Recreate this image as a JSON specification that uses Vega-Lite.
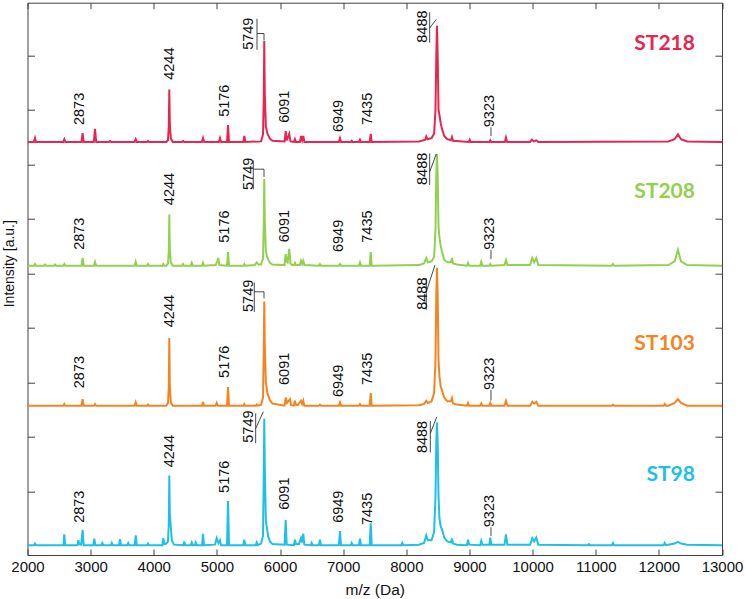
{
  "$schema": "https://vega.github.io/schema/vega-lite/v6.json",
  "width": 694.5,
  "height": 552.3,
  "autosize": {"type": "none"},
  "padding": {"left": 27.5, "top": 2.7, "right": 24, "bottom": 44},
  "background": "white",
  "config": {
    "view": {"stroke": "#404040", "strokeWidth": 1},
    "axis": {"grid": false, "domain": false, "labelFont": "Liberation Sans", "titleFont": "Liberation Sans", "labelColor": "#111", "titleColor": "#111", "tickColor": "#404040", "titleFontWeight": "normal", "labelFlush": false, "labelOverlap": false}
  },
  "datasets": {
    "ST218": [
      {"mz":2000,"int":741},{"mz":2100,"int":741},{"mz":2119,"int":748},{"mz":2135,"int":741},
      {"mz":2565,"int":741},{"mz":2583,"int":746},{"mz":2600,"int":741},
      {"mz":2855,"int":741},{"mz":2873,"int":757},{"mz":2890,"int":741},
      {"mz":3050,"int":741},{"mz":3069,"int":765},{"mz":3088,"int":741},
      {"mz":3290,"int":741},{"mz":3307,"int":743},{"mz":3325,"int":741},
      {"mz":3695,"int":741},{"mz":3714,"int":746},{"mz":3730,"int":741},
      {"mz":3890,"int":741},{"mz":3908,"int":743},{"mz":3925,"int":741},
      {"mz":4200,"int":741},{"mz":4225,"int":744},{"mz":4238,"int":770},{"mz":4246,"int":837},{"mz":4254,"int":775},{"mz":4270,"int":748},{"mz":4300,"int":741},
      {"mz":4445,"int":741},{"mz":4463,"int":743},{"mz":4480,"int":741},
      {"mz":4762,"int":741},{"mz":4780,"int":748},{"mz":4798,"int":741},
      {"mz":5030,"int":741},{"mz":5049,"int":748},{"mz":5066,"int":741},
      {"mz":5160,"int":741},{"mz":5176,"int":772},{"mz":5192,"int":741},
      {"mz":5418,"int":741},{"mz":5434,"int":752},{"mz":5450,"int":741},
      {"mz":5700,"int":742},{"mz":5730,"int":755},{"mz":5742,"int":820},{"mz":5750,"int":926},{"mz":5758,"int":830},{"mz":5775,"int":770},{"mz":5800,"int":756},{"mz":5840,"int":747},{"mz":5880,"int":743},
      {"mz":6072,"int":742},{"mz":6089,"int":761},{"mz":6105,"int":744},{"mz":6146,"int":756},{"mz":6165,"int":742},
      {"mz":6220,"int":741},{"mz":6236,"int":746},{"mz":6252,"int":741},
      {"mz":6315,"int":741},{"mz":6332,"int":752},{"mz":6350,"int":744},{"mz":6368,"int":752},{"mz":6385,"int":741},
      {"mz":6932,"int":741},{"mz":6949,"int":748},{"mz":6966,"int":741},
      {"mz":7120,"int":741},{"mz":7135,"int":743},{"mz":7150,"int":741},
      {"mz":7250,"int":741},{"mz":7266,"int":745},{"mz":7282,"int":741},
      {"mz":7420,"int":741},{"mz":7436,"int":756},{"mz":7452,"int":741},
      {"mz":8200,"int":742},{"mz":8300,"int":745},{"mz":8316,"int":751},{"mz":8335,"int":746},{"mz":8400,"int":748},{"mz":8440,"int":756},{"mz":8462,"int":800},{"mz":8475,"int":900},{"mz":8486,"int":954},{"mz":8497,"int":900},{"mz":8510,"int":800},{"mz":8525,"int":790},{"mz":8545,"int":775},{"mz":8565,"int":765},{"mz":8600,"int":752},{"mz":8650,"int":746},{"mz":8705,"int":744},{"mz":8723,"int":750},{"mz":8740,"int":743},
      {"mz":8990,"int":741},{"mz":9004,"int":745},{"mz":9020,"int":741},
      {"mz":9315,"int":741},{"mz":9330,"int":744},{"mz":9345,"int":741},
      {"mz":9560,"int":741},{"mz":9578,"int":749},{"mz":9596,"int":741},
      {"mz":9960,"int":741},{"mz":9989,"int":745},{"mz":10020,"int":742},{"mz":10060,"int":744},{"mz":10090,"int":741},
      {"mz":12150,"int":742},{"mz":12250,"int":746},{"mz":12302,"int":755},{"mz":12350,"int":746},{"mz":12450,"int":742},
      {"mz":13000,"int":741}
    ],
    "ST208": [
      {"mz":2000,"int":514},{"mz":2105,"int":514},{"mz":2119,"int":517},{"mz":2135,"int":514},
      {"mz":2262,"int":514},{"mz":2277,"int":516},{"mz":2292,"int":514},
      {"mz":2420,"int":514},{"mz":2436,"int":516},{"mz":2452,"int":514},
      {"mz":2568,"int":514},{"mz":2583,"int":517},{"mz":2598,"int":514},
      {"mz":2855,"int":514},{"mz":2873,"int":528},{"mz":2890,"int":514},
      {"mz":3052,"int":514},{"mz":3069,"int":521},{"mz":3086,"int":514},
      {"mz":3697,"int":514},{"mz":3714,"int":521},{"mz":3730,"int":514},
      {"mz":3893,"int":514},{"mz":3908,"int":517},{"mz":3923,"int":514},
      {"mz":4136,"int":514},{"mz":4151,"int":517},{"mz":4166,"int":514},
      {"mz":4200,"int":514},{"mz":4225,"int":518},{"mz":4238,"int":540},{"mz":4246,"int":608},{"mz":4254,"int":545},{"mz":4270,"int":520},{"mz":4300,"int":514},
      {"mz":4448,"int":514},{"mz":4463,"int":517},{"mz":4478,"int":514},
      {"mz":4586,"int":514},{"mz":4601,"int":519},{"mz":4616,"int":514},
      {"mz":4765,"int":514},{"mz":4780,"int":519},{"mz":4795,"int":514},
      {"mz":4980,"int":515},{"mz":5005,"int":522},{"mz":5022,"int":528},{"mz":5038,"int":515},
      {"mz":5160,"int":514},{"mz":5176,"int":539},{"mz":5192,"int":514},
      {"mz":5420,"int":514},{"mz":5434,"int":517},{"mz":5448,"int":514},
      {"mz":5600,"int":515},{"mz":5630,"int":520},{"mz":5660,"int":516},
      {"mz":5700,"int":516},{"mz":5730,"int":527},{"mz":5742,"int":590},{"mz":5750,"int":673},{"mz":5758,"int":600},{"mz":5775,"int":540},{"mz":5800,"int":528},{"mz":5840,"int":519},{"mz":5880,"int":516},
      {"mz":6072,"int":515},{"mz":6089,"int":535},{"mz":6105,"int":522},{"mz":6120,"int":520},{"mz":6146,"int":545},{"mz":6165,"int":518},{"mz":6190,"int":515},
      {"mz":6220,"int":515},{"mz":6236,"int":519},{"mz":6252,"int":515},
      {"mz":6315,"int":515},{"mz":6332,"int":523},{"mz":6350,"int":517},{"mz":6368,"int":523},{"mz":6385,"int":515},
      {"mz":6615,"int":514},{"mz":6632,"int":517},{"mz":6648,"int":514},
      {"mz":6932,"int":514},{"mz":6949,"int":517},{"mz":6966,"int":514},
      {"mz":7250,"int":514},{"mz":7266,"int":520},{"mz":7282,"int":514},
      {"mz":7420,"int":514},{"mz":7436,"int":539},{"mz":7452,"int":514},
      {"mz":8200,"int":515},{"mz":8280,"int":518},{"mz":8316,"int":528},{"mz":8340,"int":520},{"mz":8400,"int":522},{"mz":8440,"int":530},{"mz":8462,"int":580},{"mz":8475,"int":680},{"mz":8486,"int":719},{"mz":8497,"int":680},{"mz":8510,"int":585},{"mz":8525,"int":565},{"mz":8545,"int":550},{"mz":8565,"int":540},{"mz":8600,"int":525},{"mz":8650,"int":520},{"mz":8705,"int":520},{"mz":8723,"int":528},{"mz":8740,"int":518},{"mz":8800,"int":516},
      {"mz":8960,"int":514},{"mz":8977,"int":519},{"mz":8995,"int":514},
      {"mz":9170,"int":514},{"mz":9187,"int":521},{"mz":9205,"int":514},
      {"mz":9315,"int":514},{"mz":9330,"int":517},{"mz":9345,"int":514},
      {"mz":9555,"int":515},{"mz":9578,"int":524},{"mz":9600,"int":515},
      {"mz":9960,"int":515},{"mz":9995,"int":528},{"mz":10025,"int":520},{"mz":10058,"int":528},{"mz":10090,"int":515},
      {"mz":11255,"int":514},{"mz":11273,"int":517},{"mz":11290,"int":514},
      {"mz":12150,"int":515},{"mz":12250,"int":522},{"mz":12302,"int":543},{"mz":12350,"int":522},{"mz":12450,"int":515},
      {"mz":13000,"int":514}
    ],
    "ST103": [
      {"mz":2000,"int":257},{"mz":2568,"int":257},{"mz":2583,"int":260},{"mz":2598,"int":257},
      {"mz":2855,"int":257},{"mz":2873,"int":269},{"mz":2890,"int":257},
      {"mz":3052,"int":257},{"mz":3069,"int":260},{"mz":3086,"int":257},
      {"mz":3697,"int":257},{"mz":3714,"int":263},{"mz":3730,"int":257},
      {"mz":3893,"int":257},{"mz":3908,"int":259},{"mz":3923,"int":257},
      {"mz":4200,"int":257},{"mz":4225,"int":262},{"mz":4238,"int":290},{"mz":4246,"int":381},{"mz":4254,"int":295},{"mz":4270,"int":263},{"mz":4300,"int":257},
      {"mz":4765,"int":257},{"mz":4780,"int":264},{"mz":4795,"int":257},
      {"mz":4980,"int":257},{"mz":4997,"int":262},{"mz":5015,"int":257},
      {"mz":5160,"int":257},{"mz":5176,"int":291},{"mz":5192,"int":257},
      {"mz":5420,"int":257},{"mz":5434,"int":260},{"mz":5448,"int":257},
      {"mz":5615,"int":257},{"mz":5630,"int":259},{"mz":5645,"int":257},
      {"mz":5700,"int":259},{"mz":5730,"int":272},{"mz":5742,"int":360},{"mz":5750,"int":448},{"mz":5758,"int":370},{"mz":5775,"int":300},{"mz":5800,"int":280},{"mz":5840,"int":267},{"mz":5880,"int":261},
      {"mz":6072,"int":257},{"mz":6089,"int":272},{"mz":6110,"int":262},{"mz":6157,"int":269},{"mz":6175,"int":258},
      {"mz":6220,"int":257},{"mz":6236,"int":266},{"mz":6252,"int":259},{"mz":6280,"int":258},{"mz":6332,"int":266},{"mz":6350,"int":260},{"mz":6368,"int":266},{"mz":6385,"int":257},
      {"mz":6615,"int":257},{"mz":6632,"int":259},{"mz":6648,"int":257},
      {"mz":6932,"int":257},{"mz":6949,"int":263},{"mz":6966,"int":257},
      {"mz":7250,"int":257},{"mz":7266,"int":260},{"mz":7282,"int":257},
      {"mz":7420,"int":257},{"mz":7436,"int":280},{"mz":7452,"int":257},
      {"mz":8200,"int":258},{"mz":8280,"int":260},{"mz":8316,"int":266},{"mz":8340,"int":262},{"mz":8400,"int":265},{"mz":8440,"int":280},{"mz":8462,"int":340},{"mz":8475,"int":460},{"mz":8486,"int":510},{"mz":8497,"int":460},{"mz":8510,"int":340},{"mz":8525,"int":310},{"mz":8545,"int":292},{"mz":8565,"int":285},{"mz":8600,"int":272},{"mz":8650,"int":265},{"mz":8705,"int":265},{"mz":8723,"int":271},{"mz":8740,"int":261},{"mz":8800,"int":259},
      {"mz":8960,"int":257},{"mz":8977,"int":262},{"mz":8995,"int":257},
      {"mz":9170,"int":257},{"mz":9187,"int":261},{"mz":9205,"int":257},
      {"mz":9315,"int":257},{"mz":9330,"int":262},{"mz":9345,"int":257},
      {"mz":9555,"int":257},{"mz":9578,"int":266},{"mz":9600,"int":257},
      {"mz":9960,"int":257},{"mz":9995,"int":264},{"mz":10025,"int":261},{"mz":10058,"int":264},{"mz":10090,"int":257},
      {"mz":11255,"int":257},{"mz":11273,"int":259},{"mz":11290,"int":257},
      {"mz":12075,"int":257},{"mz":12092,"int":260},{"mz":12110,"int":257},
      {"mz":12150,"int":257},{"mz":12250,"int":262},{"mz":12302,"int":269},{"mz":12350,"int":262},{"mz":12450,"int":257},
      {"mz":13000,"int":257}
    ],
    "ST98": [
      {"mz":2000,"int":1},{"mz":2105,"int":1},{"mz":2119,"int":4},{"mz":2135,"int":1},
      {"mz":2570,"int":1},{"mz":2583,"int":21},{"mz":2596,"int":1},
      {"mz":2790,"int":1},{"mz":2805,"int":10},{"mz":2820,"int":3},{"mz":2850,"int":2},{"mz":2873,"int":29},{"mz":2890,"int":1},
      {"mz":3042,"int":1},{"mz":3058,"int":13},{"mz":3075,"int":1},
      {"mz":3170,"int":1},{"mz":3185,"int":5},{"mz":3200,"int":1},
      {"mz":3320,"int":1},{"mz":3334,"int":5},{"mz":3348,"int":1},
      {"mz":3450,"int":1},{"mz":3465,"int":12},{"mz":3480,"int":1},
      {"mz":3580,"int":1},{"mz":3596,"int":5},{"mz":3612,"int":1},
      {"mz":3698,"int":1},{"mz":3714,"int":19},{"mz":3730,"int":1},
      {"mz":3893,"int":1},{"mz":3908,"int":4},{"mz":3923,"int":1},
      {"mz":4136,"int":1},{"mz":4151,"int":14},{"mz":4170,"int":3},{"mz":4200,"int":4},{"mz":4225,"int":8},{"mz":4238,"int":40},{"mz":4246,"int":129},{"mz":4254,"int":60},{"mz":4268,"int":38},{"mz":4285,"int":10},{"mz":4320,"int":2},
      {"mz":4468,"int":1},{"mz":4483,"int":8},{"mz":4498,"int":1},
      {"mz":4586,"int":1},{"mz":4601,"int":6},{"mz":4616,"int":1},{"mz":4650,"int":1},{"mz":4664,"int":6},{"mz":4680,"int":1},
      {"mz":4765,"int":1},{"mz":4780,"int":22},{"mz":4795,"int":1},
      {"mz":4970,"int":2},{"mz":4997,"int":14},{"mz":5025,"int":5},{"mz":5049,"int":10},{"mz":5065,"int":1},
      {"mz":5160,"int":1},{"mz":5176,"int":82},{"mz":5192,"int":1},
      {"mz":5418,"int":1},{"mz":5434,"int":11},{"mz":5450,"int":1},
      {"mz":5615,"int":1},{"mz":5630,"int":6},{"mz":5645,"int":1},
      {"mz":5700,"int":4},{"mz":5730,"int":18},{"mz":5742,"int":130},{"mz":5750,"int":233},{"mz":5758,"int":150},{"mz":5775,"int":45},{"mz":5789,"int":35},{"mz":5810,"int":18},{"mz":5840,"int":8},{"mz":5880,"int":3},
      {"mz":6072,"int":2},{"mz":6089,"int":47},{"mz":6106,"int":2},
      {"mz":6220,"int":1},{"mz":6236,"int":11},{"mz":6252,"int":3},{"mz":6300,"int":3},{"mz":6332,"int":14},{"mz":6348,"int":6},{"mz":6368,"int":22},{"mz":6385,"int":2},
      {"mz":6488,"int":1},{"mz":6501,"int":5},{"mz":6515,"int":1},
      {"mz":6615,"int":1},{"mz":6632,"int":11},{"mz":6648,"int":1},
      {"mz":6932,"int":1},{"mz":6949,"int":27},{"mz":6966,"int":1},
      {"mz":7120,"int":1},{"mz":7135,"int":5},{"mz":7150,"int":1},
      {"mz":7250,"int":1},{"mz":7266,"int":13},{"mz":7282,"int":1},
      {"mz":7420,"int":1},{"mz":7436,"int":41},{"mz":7452,"int":1},
      {"mz":7920,"int":1},{"mz":7936,"int":5},{"mz":7950,"int":1},
      {"mz":8200,"int":2},{"mz":8280,"int":5},{"mz":8316,"int":19},{"mz":8340,"int":10},{"mz":8400,"int":10},{"mz":8440,"int":25},{"mz":8462,"int":90},{"mz":8475,"int":190},{"mz":8486,"int":226},{"mz":8497,"int":190},{"mz":8510,"int":90},{"mz":8525,"int":50},{"mz":8545,"int":35},{"mz":8565,"int":30},{"mz":8600,"int":15},{"mz":8650,"int":8},{"mz":8705,"int":6},{"mz":8723,"int":13},{"mz":8740,"int":4},{"mz":8800,"int":2},
      {"mz":8960,"int":1},{"mz":8977,"int":11},{"mz":8995,"int":2},
      {"mz":9170,"int":1},{"mz":9187,"int":9},{"mz":9205,"int":2},
      {"mz":9315,"int":2},{"mz":9330,"int":15},{"mz":9345,"int":2},
      {"mz":9555,"int":2},{"mz":9578,"int":21},{"mz":9600,"int":2},
      {"mz":9960,"int":2},{"mz":9995,"int":14},{"mz":10025,"int":8},{"mz":10058,"int":15},{"mz":10090,"int":2},
      {"mz":10880,"int":1},{"mz":10893,"int":3},{"mz":10905,"int":1},
      {"mz":11255,"int":1},{"mz":11273,"int":5},{"mz":11290,"int":1},
      {"mz":12075,"int":1},{"mz":12092,"int":5},{"mz":12110,"int":1},
      {"mz":12150,"int":2},{"mz":12250,"int":4},{"mz":12302,"int":7},{"mz":12350,"int":4},{"mz":12450,"int":2},
      {"mz":13000,"int":1}
    ],
    "labels": [
      {"mz":2831,"int":772,"label":"2873"},{"mz":4257,"int":855,"label":"4244"},{"mz":5128,"int":787,"label":"5176"},{"mz":5510,"int":910,"label":"5749"},{"mz":6073,"int":776,"label":"6091"},{"mz":6931,"int":759,"label":"6949"},{"mz":7393,"int":772,"label":"7435"},{"mz":8265,"int":923,"label":"8488"},{"mz":9333,"int":768,"label":"9323"},
      {"mz":2831,"int":543,"label":"2873"},{"mz":4257,"int":625,"label":"4244"},{"mz":5128,"int":556,"label":"5176"},{"mz":5510,"int":653,"label":"5749"},{"mz":6073,"int":557,"label":"6091"},{"mz":6931,"int":539,"label":"6949"},{"mz":7393,"int":556,"label":"7435"},{"mz":8265,"int":662,"label":"8488"},{"mz":9333,"int":543,"label":"9323"},
      {"mz":2831,"int":289,"label":"2873"},{"mz":4257,"int":401,"label":"4244"},{"mz":5128,"int":308,"label":"5176"},{"mz":5510,"int":429,"label":"5749"},{"mz":6073,"int":295,"label":"6091"},{"mz":6931,"int":273,"label":"6949"},{"mz":7393,"int":295,"label":"7435"},{"mz":8265,"int":433,"label":"8488"},{"mz":9333,"int":286,"label":"9323"},
      {"mz":2831,"int":42,"label":"2873"},{"mz":4257,"int":144,"label":"4244"},{"mz":5128,"int":97,"label":"5176"},{"mz":5510,"int":189,"label":"5749"},{"mz":6073,"int":66,"label":"6091"},{"mz":6931,"int":42,"label":"6949"},{"mz":7393,"int":38,"label":"7435"},{"mz":8265,"int":170,"label":"8488"},{"mz":9333,"int":34,"label":"9323"}
    ],
    "leaders": [
      {"mz":5635,"int":967,"mz2":5635,"int2":910},{"mz":5635,"int":940,"mz2":5746,"int2":940},{"mz":5746,"int":940,"mz2":5746,"int2":927},{"mz":8370,"int":979,"mz2":8370,"int2":923},{"mz":8370,"int":950,"mz2":8475,"int2":966},{"mz":9341,"int":768,"mz2":9341,"int2":752},
      {"mz":5576,"int":707,"mz2":5576,"int2":654},{"mz":5576,"int":691,"mz2":5746,"int2":691},{"mz":5746,"int":691,"mz2":5746,"int2":677},{"mz":8370,"int":720,"mz2":8370,"int2":662},{"mz":8370,"int":686,"mz2":8475,"int2":719},{"mz":9341,"int":543,"mz2":9341,"int2":526},
      {"mz":5592,"int":483,"mz2":5592,"int2":429},{"mz":5592,"int":466,"mz2":5746,"int2":466},{"mz":5746,"int":466,"mz2":5746,"int2":454},{"mz":8316,"int":491,"mz2":8316,"int2":433},{"mz":8316,"int":466,"mz2":8454,"int2":515},{"mz":9341,"int":286,"mz2":9341,"int2":267},
      {"mz":5614,"int":243,"mz2":5614,"int2":188},{"mz":5614,"int":215,"mz2":5735,"int2":246},{"mz":8380,"int":229,"mz2":8380,"int2":171},{"mz":8380,"int":206,"mz2":8481,"int2":236},{"mz":9341,"int":34,"mz2":9341,"int2":18}
    ],
    "names": [
      {"sample":"ST218","mz":12572,"int":910},
      {"sample":"ST208","mz":12572,"int":638},
      {"sample":"ST103","mz":12572,"int":359},
      {"sample":"ST98","mz":12572,"int":119}
    ]
  },
  "resolve": {"axis": {"x": "independent", "y": "independent"}},
  "layer": [
    {
      "data": {"name": "ST98"},
      "mark": {"type": "line", "color": "#1EC0E6", "strokeWidth": 2, "clip": true},
      "encoding": {
        "x": {"field": "mz", "type": "quantitative", "scale": {"domain": [2000, 13000], "nice": false, "zero": false},
              "axis": {"orient": "bottom", "values": [2000,3000,4000,5000,6000,7000,8000,9000,10000,11000,12000,13000], "format": "d", "tickSize": -6, "labelFont": "Liberation Sans", "labelFontSize": 15, "labelBaseline": "top", "labelPadding": 10, "labelFlush": false, "labelOverlap": false, "labelAlign": "center", "title": "m/z (Da)", "titleFont": "Liberation Sans", "titleFontSize": 15.5, "titleBaseline": "alphabetic", "titleY": 39.5}},
        "y": {"field": "int", "type": "quantitative", "scale": {"domain": [-17, 996.5], "nice": false, "zero": false},
              "axis": {"orient": "left", "values": [100,200,300,400,500,600,700,800,900], "labels": false, "tickSize": -7, "title": "Intensity [a.u.]", "titleFont": "Liberation Sans", "titleFontSize": 14, "titleBaseline": "alphabetic", "titleAngle": 270, "titleX": -14.5, "titleY": 260.5}}
      }
    },
    {
      "data": {"name": "ST103"},
      "mark": {"type": "line", "color": "#F5841F", "strokeWidth": 2, "clip": true},
      "encoding": {
        "x": {"field": "mz", "type": "quantitative", "scale": {"domain": [2000, 13000], "nice": false, "zero": false}, "axis": null},
        "y": {"field": "int", "type": "quantitative", "scale": {"domain": [-17, 996.5], "nice": false, "zero": false}, "axis": null}
      }
    },
    {
      "data": {"name": "ST208"},
      "mark": {"type": "line", "color": "#92D050", "strokeWidth": 2, "clip": true},
      "encoding": {
        "x": {"field": "mz", "type": "quantitative", "scale": {"domain": [2000, 13000], "nice": false, "zero": false}, "axis": null},
        "y": {"field": "int", "type": "quantitative", "scale": {"domain": [-17, 996.5], "nice": false, "zero": false}, "axis": null}
      }
    },
    {
      "data": {"name": "ST218"},
      "mark": {"type": "line", "color": "#E8244F", "strokeWidth": 2, "clip": true},
      "encoding": {
        "x": {"field": "mz", "type": "quantitative", "scale": {"domain": [2000, 13000], "nice": false, "zero": false}, "axis": null},
        "y": {"field": "int", "type": "quantitative", "scale": {"domain": [-17, 996.5], "nice": false, "zero": false}, "axis": null}
      }
    },
    {
      "data": {"name": "leaders"},
      "mark": {"type": "rule", "color": "#333", "strokeWidth": 0.9},
      "encoding": {
        "x": {"field": "mz", "type": "quantitative", "scale": {"domain": [2000, 13000], "nice": false, "zero": false},
              "axis": {"orient": "top", "values": [2000,3000,4000,5000,6000,7000,8000,9000,10000,11000,12000,13000], "labels": false, "tickSize": -6, "title": null}},
        "y": {"field": "int", "type": "quantitative", "scale": {"domain": [-17, 996.5], "nice": false, "zero": false},
              "axis": {"orient": "right", "values": [100,200,300,400,500,600,700,800,900], "labels": false, "tickSize": -7, "title": null}},
        "x2": {"field": "mz2"},
        "y2": {"field": "int2"}
      }
    },
    {
      "data": {"name": "labels"},
      "mark": {"type": "text", "angle": 270, "align": "left", "baseline": "middle", "font": "Liberation Sans", "fontSize": 14.5, "color": "#111"},
      "encoding": {
        "x": {"field": "mz", "type": "quantitative", "scale": {"domain": [2000, 13000], "nice": false, "zero": false}, "axis": null},
        "y": {"field": "int", "type": "quantitative", "scale": {"domain": [-17, 996.5], "nice": false, "zero": false}, "axis": null},
        "text": {"field": "label"}
      }
    },
    {
      "data": {"name": "names"},
      "mark": {"type": "text", "align": "right", "baseline": "alphabetic", "font": "Lato", "fontWeight": "bold", "fontSize": 21},
      "encoding": {
        "x": {"field": "mz", "type": "quantitative", "scale": {"domain": [2000, 13000], "nice": false, "zero": false}, "axis": null},
        "y": {"field": "int", "type": "quantitative", "scale": {"domain": [-17, 996.5], "nice": false, "zero": false}, "axis": null},
        "text": {"field": "sample"},
        "color": {"field": "sample", "type": "nominal", "legend": null,
                  "scale": {"domain": ["ST218", "ST208", "ST103", "ST98"], "range": ["#E8244F", "#92D050", "#F5841F", "#1EC0E6"]}}
      }
    }
  ]
}
